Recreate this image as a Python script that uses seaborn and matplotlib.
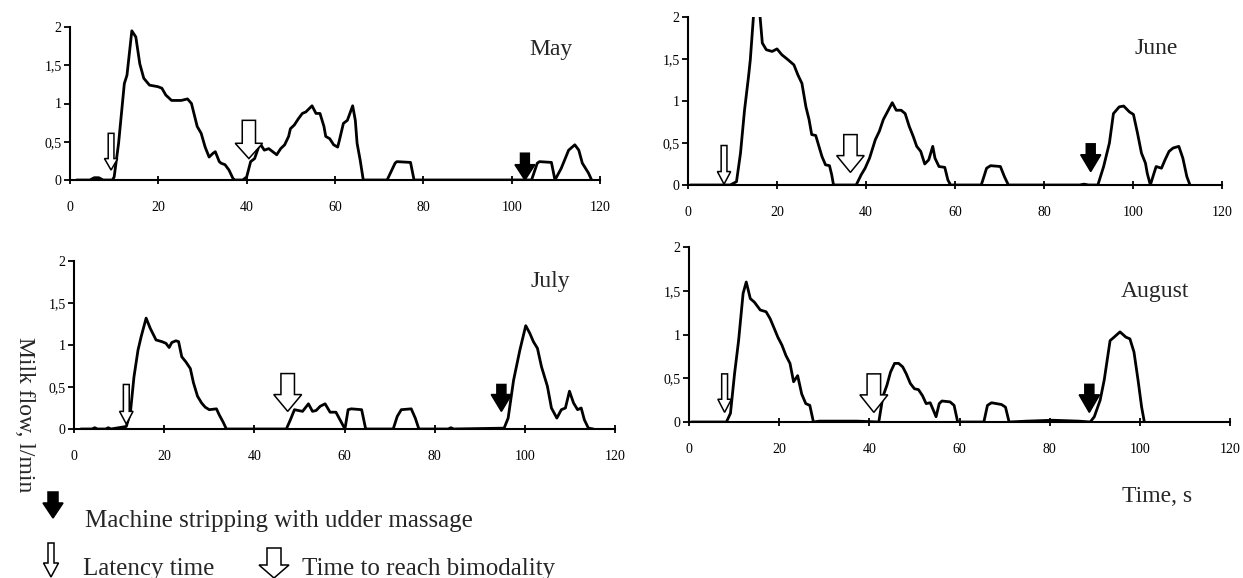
import pandas as pd
import matplotlib.pyplot as plt
import seaborn as sns

# Milk flow curves (time in s, flow in l/min)
may_t = [1.5, 4.5, 5.5, 6.5, 7.5, 9.6, 10.0, 11.0, 12.3, 12.9,
         14.0, 14.9, 15.8, 16.7, 18.0, 19.9, 20.8, 21.7, 23.0, 25.2,
         26.6, 27.5, 28.8, 29.7, 30.6, 31.5, 32.4, 32.9, 33.8, 34.2,
         35.1, 36.0, 36.9, 37.3, 39.1, 40.0, 40.9, 41.8, 42.7, 43.2,
         44.0, 45.0, 45.9, 46.8, 47.7, 48.6, 49.5, 49.9, 50.8, 51.7,
         52.6, 53.4, 54.8, 55.7, 56.6, 57.5, 57.9, 58.8, 59.7, 60.6,
         61.0, 61.9, 62.8, 64.0, 64.6, 65.0, 65.7, 66.4, 71.8, 73.6,
         74.0, 77.1, 77.9, 104.5, 105.8, 106.3, 109.0, 109.8, 111.2, 112.9,
         114.3, 115.2, 116.0, 117.4, 118.1]
may_flow = [0, 0, 0.03, 0.03, 0, 0, 0.04, 0.48, 1.26, 1.37,
            1.95, 1.87, 1.52, 1.33, 1.24, 1.22, 1.20, 1.11, 1.04, 1.04,
            1.06, 1.00, 0.70, 0.61, 0.43, 0.30, 0.35, 0.37, 0.24, 0.22,
            0.20, 0.13, 0.02, 0, 0, 0.04, 0.24, 0.28, 0.43, 0.46,
            0.39, 0.41, 0.37, 0.33, 0.41, 0.46, 0.57, 0.67, 0.72, 0.80,
            0.87, 0.89, 0.97, 0.87, 0.87, 0.70, 0.57, 0.54, 0.46, 0.43,
            0.52, 0.74, 0.78, 0.97, 0.78, 0.48, 0.26, 0, 0, 0.22,
            0.24, 0.23, 0, 0, 0.22, 0.24, 0.23, 0, 0.15, 0.39,
            0.46, 0.39, 0.22, 0.09, 0]

june_t = [0.5, 9.5, 10.9, 11.8, 12.7, 13.6, 14.0, 14.7, 15.5, 16.2,
          16.7, 17.6, 18.9, 20.0, 21.1, 22.5, 23.8, 24.7, 25.6, 26.5,
          27.2, 27.8, 28.7, 29.2, 30.1, 30.9, 31.8, 32.3, 32.7, 37.8,
          38.9, 39.8, 40.8, 42.1, 43.0, 43.9, 44.8, 45.9, 46.8, 47.9,
          48.8, 49.7, 50.6, 51.4, 52.3, 53.2, 54.1, 55.0, 55.5, 56.4,
          57.7, 58.4, 59.0, 65.9, 67.1, 68.0, 70.2, 71.1, 72.0, 88.0,
          89.0, 90.0, 92.1, 93.4, 94.7, 95.6, 96.9, 97.9, 99.2, 100.1,
          101.0, 101.9, 102.8, 103.2, 103.9, 104.6, 105.2, 106.4, 107.2, 108.1,
          109.0, 110.3, 111.2, 112.1, 112.8]
june_flow = [0, 0, 0.04, 0.38, 0.89, 1.29, 1.49, 2.0, 2.15, 2.0,
             1.69, 1.61, 1.59, 1.62, 1.55, 1.49, 1.43, 1.31, 1.21, 0.93,
             0.78, 0.60, 0.59, 0.50, 0.34, 0.24, 0.23, 0.12, 0, 0,
             0.12, 0.20, 0.32, 0.54, 0.64, 0.78, 0.87, 0.98, 0.89, 0.89,
             0.85, 0.70, 0.58, 0.46, 0.40, 0.25, 0.30, 0.46, 0.32, 0.22,
             0.21, 0.06, 0, 0, 0.20, 0.23, 0.22, 0.10, 0, 0,
             0.01, 0, 0, 0.22, 0.50, 0.85, 0.93, 0.94, 0.87, 0.84,
             0.62, 0.38, 0.26, 0.14, 0, 0.12, 0.22, 0.20, 0.30, 0.40,
             0.44, 0.46, 0.32, 0.10, 0]

july_t = [1.5, 4.0, 4.6, 5.2, 7.0, 7.6, 8.2, 11.6, 12.5, 13.3,
          14.2, 14.9, 16.0, 16.9, 18.2, 19.5, 20.4, 21.1, 21.7, 22.6,
          23.2, 23.9, 24.8, 25.8, 26.5, 27.4, 28.3, 29.1, 30.0, 31.6,
          32.2, 33.1, 33.8, 47.1, 48.0, 48.9, 50.7, 52.0, 52.9, 53.7,
          54.6, 55.7, 56.8, 58.1, 59.0, 60.1, 60.8, 61.5, 63.8, 64.7,
          70.8, 71.7, 72.6, 74.8, 75.7, 76.5, 83.0, 83.6, 84.2, 95.4,
          96.3, 97.5, 98.9, 100.2, 101.1, 101.9, 102.8, 103.7, 105.0, 105.9,
          107.1, 108.1, 109.0, 109.9, 110.8, 111.7, 112.5, 113.2, 114.1, 115.2]
july_flow = [0, 0, 0.015, 0, 0, 0.015, 0, 0.03, 0.19, 0.62,
             0.94, 1.10, 1.32, 1.20, 1.06, 1.04, 1.02, 0.97, 1.03, 1.05,
             1.04, 0.86, 0.80, 0.72, 0.55, 0.39, 0.31, 0.26, 0.23, 0.24,
             0.17, 0.08, 0, 0, 0.11, 0.23, 0.21, 0.30, 0.21, 0.22,
             0.27, 0.30, 0.20, 0.20, 0.11, 0, 0.23, 0.24, 0.23, 0,
             0, 0.15, 0.23, 0.24, 0.13, 0, 0, 0.015, 0, 0.01,
             0.13, 0.58, 0.94, 1.23, 1.14, 1.04, 0.96, 0.74, 0.51, 0.25,
             0.13, 0.23, 0.25, 0.45, 0.31, 0.23, 0.25, 0.11, 0.01, 0]

aug_t = [0.5, 8.3, 9.2, 10.1, 11.0, 12.0, 12.7, 13.6, 14.5, 15.8,
         17.1, 18.0, 18.9, 19.7, 20.6, 21.5, 22.4, 23.2, 24.1, 25.0,
         25.9, 26.8, 27.6, 28.9, 37.3, 42.1, 43.0, 43.9, 44.7, 45.6,
         46.5, 47.4, 48.2, 49.1, 50.0, 50.9, 51.8, 52.6, 53.5, 54.4,
         54.8, 55.5, 56.1, 57.9, 58.8, 59.6, 65.4, 66.2, 67.1, 69.3,
         70.2, 71.0, 75.0, 80.7, 86.4, 89.0, 89.9, 91.2, 92.1, 93.4,
         94.3, 95.6, 96.9, 97.8, 98.7, 99.6, 100.4, 101.0]
aug_flow = [0, 0, 0.10, 0.55, 0.93, 1.47, 1.60, 1.41, 1.37, 1.28,
            1.26, 1.18, 1.07, 0.97, 0.88, 0.76, 0.67, 0.46, 0.53, 0.32,
            0.21, 0.19, 0, 0.01, 0.01, 0, 0.29, 0.42, 0.57, 0.67,
            0.67, 0.63, 0.55, 0.44, 0.38, 0.37, 0.30, 0.21, 0.22, 0.11,
            0.06, 0.21, 0.24, 0.23, 0.19, 0, 0, 0.19, 0.22, 0.20,
            0.17, 0, 0.01, 0.02, 0.01, 0, 0.06, 0.25, 0.48, 0.93,
            0.97, 1.03, 0.97, 0.95, 0.80, 0.48, 0.17, 0]

months = ["May", "June", "July", "August"]

# Arrow markers: x position (s), top and tip of the arrow (l/min)
latency_x = [9.3, 8.1, 11.6, 7.9]
latency_top = [0.61, 0.47, 0.53, 0.55]
latency_tip = [0.13, 0.01, 0.06, 0.11]
bimodal_x = [40.5, 36.5, 47.4, 41.0]
bimodal_top = [0.78, 0.60, 0.66, 0.55]
bimodal_tip = [0.28, 0.15, 0.21, 0.11]
strip_x = [103.0, 90.5, 94.8, 88.8]
strip_top = [0.35, 0.49, 0.53, 0.43]
strip_tip = [0.0, 0.16, 0.21, 0.11]

x_ticks = [0, 20, 40, 60, 80, 100, 120]
y_ticks = [0, 0.5, 1, 1.5, 2]
y_tick_labels = ["0", "0,5", "1", "1,5", "2"]

sns.set_theme(style="white")
plt.rcParams['font.family'] = ['Liberation Serif', 'DejaVu Serif']

W, H = 1243, 578
fig = plt.figure(figsize=(W / 100, H / 100), dpi=100)

# axes boxes in pixels: left, right, y of 0, y of 2
boxes = [(70, 600, 180, 27), (688, 1222, 185, 17),
         (74, 615, 429, 261), (689, 1230, 422, 247)]
label_pos = [(109.0, 1.71), (105.2, 1.63), (105.6, 1.75), (103.3, 1.49)]
series = [(may_t, may_flow), (june_t, june_flow), (july_t, july_flow), (aug_t, aug_flow)]


def hollow_arrow(ax, x, top, tip, w, hw, hl, fc):
    ax.arrow(x, top, 0, tip - top, width=w, head_width=hw, head_length=hl,
             length_includes_head=True, fc=fc, ec='black', lw=1.1,
             zorder=4, clip_on=False)


for i, month in enumerate(months):
    l, r, y0, y2 = boxes[i]
    ax = fig.add_axes([l / W, (H - y0) / H, (r - l) / W, (y0 - y2) / H])
    df = pd.DataFrame({'Time': series[i][0], 'Flow': series[i][1]})
    sns.lineplot(data=df, x='Time', y='Flow', color='black', linewidth=2.0, ax=ax)
    ax.set_xlim(0, 120)
    ax.set_ylim(0, 2)
    ax.set_xticks(x_ticks)
    ax.set_xticklabels([str(v) for v in x_ticks])
    ax.set_yticks(y_ticks)
    ax.set_yticklabels(y_tick_labels)
    ax.set_xlabel('')
    ax.set_ylabel('')
    sns.despine(ax=ax)
    for s in ['left', 'bottom']:
        ax.spines[s].set_color('black')
        ax.spines[s].set_linewidth(1.5)
    ax.tick_params(axis='x', direction='inout', length=6, width=1.3, pad=12,
                   labelsize=10, colors='black', bottom=True)
    ax.tick_params(axis='y', direction='out', length=4, width=1.3, pad=2,
                   labelsize=10, colors='black', left=True)
    ax.text(label_pos[i][0], label_pos[i][1], month, fontsize=17,
            ha='center', va='center')

    hollow_arrow(ax, latency_x[i], latency_top[i], latency_tip[i], 1.3, 3.0, 0.15, 'white')
    hollow_arrow(ax, bimodal_x[i], bimodal_top[i], bimodal_tip[i], 3.0, 6.2, 0.2, 'white')
    hollow_arrow(ax, strip_x[i], strip_top[i], strip_tip[i], 2.0, 4.5, 0.2, 'black')

# overlay in pixel units for the shared labels and the key
ov = fig.add_axes([0, 0, 1, 1])
ov.set_xlim(0, W)
ov.set_ylim(H, 0)
ov.axis('off')
ov.patch.set_alpha(0)

ov.text(24, 415, "Milk flow, l/min", fontsize=17, rotation=-90,
        ha='center', va='center')
ov.text(1122, 502, "Time, s", fontsize=17, ha='left', va='baseline')

hollow_arrow(ov, 53, 492, 518, 10, 20, 15, 'black')
ov.text(85, 527, "Machine stripping with udder massage", fontsize=18, va='baseline')
hollow_arrow(ov, 51, 543, 577, 6, 15, 14, 'white')
ov.text(83, 575, "Latency time", fontsize=18, va='baseline')
hollow_arrow(ov, 274, 548, 578, 14, 30, 13, 'white')
ov.text(302, 575, "Time to reach bimodality", fontsize=18, va='baseline')

fig.savefig('out.png', dpi=100)
